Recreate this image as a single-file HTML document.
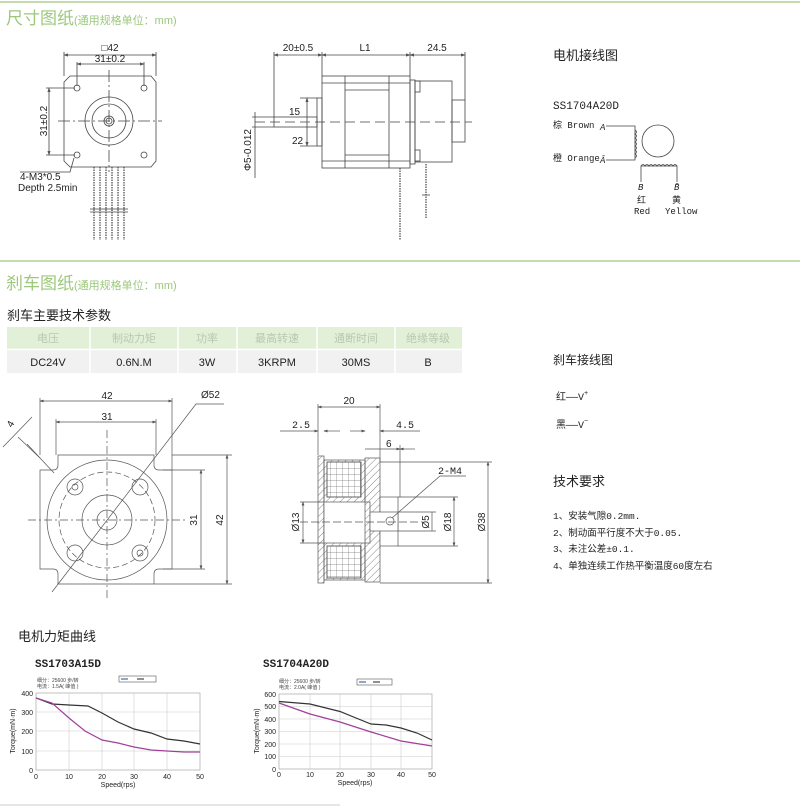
<!DOCTYPE html>
<html><head><meta charset="utf-8"><style>
html,body{margin:0;padding:0;background:#fff;}
svg{display:block;font-family:"Liberation Sans","Noto Sans CJK SC",sans-serif;}
.m{font-family:"Liberation Mono","Noto Sans CJK SC",monospace;}
</style></head><body>
<svg width="800" height="807" viewBox="0 0 800 807" xmlns="http://www.w3.org/2000/svg">
<defs>
<marker id="ar" markerWidth="6" markerHeight="4" refX="5" refY="2" orient="auto-start-reverse"><path d="M0,0 L6,2 L0,4z" fill="#555"/></marker>
<pattern id="hatch" width="5" height="5" patternUnits="userSpaceOnUse" patternTransform="rotate(45)"><line x1="0" y1="0" x2="0" y2="5" stroke="#666" stroke-width="0.8"/></pattern>
<pattern id="grid" width="6" height="6" patternUnits="userSpaceOnUse"><path d="M6,0 L0,0 0,6" fill="none" stroke="#777" stroke-width="0.7"/></pattern>
</defs>

<line x1="0" y1="2" x2="800" y2="2" stroke="#c4dcb0" stroke-width="2"/>
<text x="6" y="24" font-size="17" fill="#9cc87c">尺寸图纸<tspan font-size="11">(通用规格单位：mm)</tspan></text>

<g stroke="#444" fill="none" stroke-width="0.8">
<path d="M70,76 L151,76 L156,82 L156,161 L151,167 L70,167 L64,161 L64,82 Z"/>
<circle cx="109" cy="121" r="24"/><circle cx="109" cy="121" r="17"/>
<circle cx="109" cy="121" r="5"/><circle cx="109" cy="121" r="3"/>
<circle cx="77" cy="88" r="3"/><circle cx="144" cy="88" r="3"/><circle cx="77" cy="155" r="3"/><circle cx="144" cy="155" r="3"/>
<line x1="58" y1="121" x2="162" y2="121" stroke-dasharray="12,3,2,3"/>
<line x1="109" y1="70" x2="109" y2="172" stroke-dasharray="12,3,2,3"/>
<line x1="64" y1="52" x2="64" y2="76"/><line x1="156" y1="52" x2="156" y2="76"/>
<line x1="64" y1="55" x2="156" y2="55" marker-start="url(#ar)" marker-end="url(#ar)"/>
<line x1="77" y1="62" x2="77" y2="86"/><line x1="144" y1="62" x2="144" y2="86"/>
<line x1="77" y1="64" x2="144" y2="64" marker-start="url(#ar)" marker-end="url(#ar)"/>
<line x1="46" y1="88" x2="75" y2="88"/><line x1="46" y1="155" x2="75" y2="155"/>
<line x1="49" y1="88" x2="49" y2="155" marker-start="url(#ar)" marker-end="url(#ar)"/>
<polyline points="74,158 70,172 20,172"/>
<g stroke-dasharray="1.5,1" stroke-width="1.2">
<line x1="94" y1="167" x2="94" y2="240"/><line x1="100" y1="167" x2="100" y2="240"/><line x1="106" y1="167" x2="106" y2="240"/>
<line x1="112" y1="167" x2="112" y2="240"/><line x1="118" y1="167" x2="118" y2="240"/><line x1="124" y1="167" x2="124" y2="240"/>
</g>
<line x1="90" y1="209" x2="128" y2="209"/><line x1="90" y1="212" x2="128" y2="212"/>

<rect x="322" y="76" width="88" height="92"/>
<line x1="345" y1="76" x2="345" y2="168"/><line x1="389" y1="76" x2="389" y2="168"/>
<line x1="322" y1="83" x2="410" y2="83"/><line x1="345" y1="90" x2="389" y2="90"/>
<line x1="322" y1="161" x2="410" y2="161"/><line x1="345" y1="155" x2="389" y2="155"/>
<rect x="410" y="80" width="5" height="84"/>
<rect x="415" y="81" width="37" height="81"/>
<rect x="415" y="81" width="5" height="11"/><rect x="415" y="150" width="5" height="11"/>
<rect x="452" y="100" width="13" height="42"/>
<rect x="317" y="98" width="5" height="48"/>
<rect x="274" y="117" width="43" height="10"/>
<line x1="255" y1="122" x2="472" y2="122" stroke-dasharray="10,5"/>
<line x1="274" y1="52" x2="274" y2="117"/><line x1="322" y1="52" x2="322" y2="76"/>
<line x1="410" y1="52" x2="410" y2="76"/><line x1="465" y1="52" x2="465" y2="100"/>
<line x1="274" y1="55" x2="322" y2="55" marker-start="url(#ar)" marker-end="url(#ar)"/>
<line x1="322" y1="55" x2="410" y2="55" marker-start="url(#ar)" marker-end="url(#ar)"/>
<line x1="410" y1="55" x2="465" y2="55" marker-start="url(#ar)" marker-end="url(#ar)"/>
<line x1="300" y1="98" x2="317" y2="98"/><line x1="300" y1="146" x2="317" y2="146"/>
<line x1="307" y1="98" x2="307" y2="146" marker-start="url(#ar)" marker-end="url(#ar)"/>
<line x1="252" y1="117" x2="274" y2="117"/><line x1="252" y1="127" x2="274" y2="127"/>
<line x1="255" y1="112" x2="255" y2="178"/>
<g stroke-dasharray="1.5,1" stroke-width="1.2">
<line x1="400" y1="168" x2="400" y2="240"/><line x1="426" y1="164" x2="426" y2="218"/>
</g>
<line x1="422" y1="195" x2="430" y2="195"/>

<polyline points="606,126 635,126 635,160 606,160"/>
<path d="M635,130 q3,2 0,4 q3,2 0,4 q3,2 0,4 q3,2 0,4 q3,2 0,4 q3,2 0,4 q3,2 0,4" />
<circle cx="658" cy="141" r="16"/>
<polyline points="641,182 641,166 677,166 677,182"/>
<path d="M641,166 q2,-3 4,0 q2,-3 4,0 q2,-3 4,0 q2,-3 4,0 q2,-3 4,0 q2,-3 4,0 q2,-3 4,0 q2,-3 4,0 q2,-3 4,0"/>
</g>

<g font-size="10" fill="#222">
<text x="110" y="51" text-anchor="middle">□42</text>
<text x="110" y="62" text-anchor="middle">31±0.2</text>
<text x="47" y="121" text-anchor="middle" transform="rotate(-90 47 121)">31±0.2</text>
<text x="20" y="180">4-M3*0.5</text>
<text x="18" y="191">Depth 2.5min</text>
<text x="298" y="51" text-anchor="middle">20±0.5</text>
<text x="365" y="51" text-anchor="middle">L1</text>
<text x="437" y="51" text-anchor="middle">24.5</text>
<text x="289" y="115">15</text>
<text x="292" y="144">22</text>
<text x="251" y="150" text-anchor="middle" transform="rotate(-90 251 150)">Φ5-0.012</text>
</g>
<text x="553" y="60" font-size="13" fill="#222">电机接线图</text>
<g class="m" font-size="9" fill="#222">
<text x="553" y="109" font-size="11">SS1704A20D</text>
<text x="553" y="128">棕 Brown</text>
<text x="600" y="130" font-style="italic">A</text>
<text x="553" y="161">橙 Orange</text>
<text x="600" y="163" font-style="italic">Ā</text>
<text x="638" y="190" font-style="italic">B</text>
<text x="674" y="190" font-style="italic">B̄</text>
<text x="637" y="203">红</text><text x="672" y="203">黄</text>
<text x="634" y="214">Red</text><text x="665" y="214">Yellow</text>
</g>

<line x1="0" y1="261" x2="800" y2="261" stroke="#c4dcb0" stroke-width="2"/>
<text x="6" y="289" font-size="17" fill="#9cc87c">刹车图纸<tspan font-size="11">(通用规格单位：mm)</tspan></text>
<text x="7" y="320" font-size="13" fill="#222">刹车主要技术参数</text>
<rect x="7" y="327" width="455" height="22" fill="#e3f0d8"/>
<rect x="7" y="350" width="455" height="23" fill="#f1f1f1"/>
<g stroke="#fff" stroke-width="1.5">
<line x1="90" y1="327" x2="90" y2="373"/><line x1="178" y1="327" x2="178" y2="373"/><line x1="237" y1="327" x2="237" y2="373"/>
<line x1="317" y1="327" x2="317" y2="373"/><line x1="395" y1="327" x2="395" y2="373"/><line x1="7" y1="349.5" x2="462" y2="349.5"/>
</g>
<g font-size="11" fill="#b8c8b0" text-anchor="middle">
<text x="48" y="342">电压</text><text x="134" y="342">制动力矩</text><text x="207" y="342">功率</text>
<text x="277" y="342">最高转速</text><text x="356" y="342">通断时间</text><text x="428" y="342">绝缘等级</text>
</g>
<g font-size="11" fill="#222" text-anchor="middle">
<text x="48" y="366">DC24V</text><text x="134" y="366">0.6N.M</text><text x="207" y="366">3W</text>
<text x="277" y="366">3KRPM</text><text x="356" y="366">30MS</text><text x="428" y="366">B</text>
</g>

<g stroke="#555" fill="none" stroke-width="0.7">
<path d="M58,455 L154,455 L154,465 Q154,470 159,470 L172,470 L172,569 L159,569 Q154,569 154,574 L154,584 L58,584 L58,574 Q58,569 53,569 L40,569 L40,470 L53,470 Q58,470 58,465 Z"/>
<circle cx="107" cy="520" r="60"/>
<circle cx="107" cy="520" r="48" stroke-dasharray="6,3"/>
<circle cx="107" cy="520" r="25"/><circle cx="107" cy="520" r="10"/>
<circle cx="75" cy="487" r="8"/><circle cx="75" cy="487" r="3"/>
<circle cx="140" cy="487" r="8"/>
<circle cx="75" cy="553" r="8"/>
<circle cx="140" cy="553" r="8"/><circle cx="140" cy="553" r="3"/>
<line x1="28" y1="520" x2="188" y2="520" stroke-dasharray="8,3,2,3"/>
<line x1="107" y1="430" x2="107" y2="600" stroke-dasharray="8,3,2,3"/>
<line x1="40" y1="398" x2="40" y2="455"/><line x1="172" y1="398" x2="172" y2="470"/>
<line x1="40" y1="401" x2="172" y2="401" marker-start="url(#ar)" marker-end="url(#ar)"/>
<line x1="56" y1="419" x2="56" y2="455"/><line x1="156" y1="419" x2="156" y2="455"/>
<line x1="56" y1="422" x2="156" y2="422" marker-start="url(#ar)" marker-end="url(#ar)"/>
<line x1="163" y1="470" x2="205" y2="470"/><line x1="163" y1="569" x2="205" y2="569"/>
<line x1="201" y1="470" x2="201" y2="569" marker-start="url(#ar)" marker-end="url(#ar)"/>
<line x1="172" y1="455" x2="232" y2="455"/><line x1="154" y1="584" x2="232" y2="584"/>
<line x1="227" y1="455" x2="227" y2="584" marker-start="url(#ar)" marker-end="url(#ar)"/>
<polyline points="52,592 196,404 224,404"/>
<line x1="3" y1="447" x2="32" y2="417"/><line x1="40" y1="458" x2="18" y2="437"/><line x1="54" y1="473" x2="27" y2="444"/>

<rect x="318" y="456" width="6" height="127" fill="url(#hatch)"/>
<rect x="324" y="460" width="41" height="120" fill="url(#hatch)"/>
<rect x="327" y="462" width="34" height="35" fill="#fff"/>
<rect x="327" y="462" width="34" height="35" fill="url(#grid)"/>
<rect x="327" y="546" width="34" height="32" fill="#fff"/>
<rect x="327" y="546" width="34" height="32" fill="url(#grid)"/>
<rect x="324" y="502" width="46" height="41" fill="#fff"/>
<rect x="365" y="458" width="15" height="124" fill="url(#hatch)"/>
<rect x="380" y="497" width="18" height="49" fill="#fff"/>
<rect x="370" y="512" width="28" height="19" fill="#fff"/>
<circle cx="390" cy="521" r="4"/>
<line x1="300" y1="522" x2="420" y2="522" stroke-dasharray="8,3"/>
<line x1="318" y1="404" x2="318" y2="455"/><line x1="380" y1="404" x2="380" y2="462"/>
<line x1="318" y1="407" x2="380" y2="407" marker-start="url(#ar)" marker-end="url(#ar)"/>
<line x1="280" y1="431" x2="318" y2="431" marker-end="url(#ar)"/><line x1="324" y1="431" x2="340" y2="431" marker-start="url(#ar)"/>
<line x1="350" y1="431" x2="365" y2="431" marker-end="url(#ar)"/><line x1="380" y1="431" x2="420" y2="431" marker-start="url(#ar)"/>
<line x1="365" y1="449" x2="400" y2="449" marker-end="url(#ar)"/><line x1="400" y1="449" x2="415" y2="449" marker-start="url(#ar)"/>
<line x1="400" y1="445" x2="400" y2="497"/>
<line x1="300" y1="502" x2="324" y2="502"/><line x1="300" y1="543" x2="324" y2="543"/>
<line x1="303" y1="502" x2="303" y2="543" marker-start="url(#ar)" marker-end="url(#ar)"/>
<line x1="398" y1="512" x2="436" y2="512"/><line x1="398" y1="531" x2="436" y2="531"/>
<line x1="432" y1="512" x2="432" y2="531"/>
<line x1="398" y1="497" x2="458" y2="497"/><line x1="398" y1="546" x2="458" y2="546"/>
<line x1="454" y1="497" x2="454" y2="546" marker-start="url(#ar)" marker-end="url(#ar)"/>
<line x1="380" y1="462" x2="492" y2="462"/><line x1="380" y1="583" x2="492" y2="583"/>
<line x1="488" y1="462" x2="488" y2="583" marker-start="url(#ar)" marker-end="url(#ar)"/>
<polyline points="392,518 440,476 466,476"/>
</g>
<g font-size="10" fill="#222">
<text x="107" y="399" text-anchor="middle">42</text>
<text x="107" y="420" text-anchor="middle">31</text>
<text x="201" y="398">Ø52</text>
<text x="197" y="520" text-anchor="middle" transform="rotate(-90 197 520)">31</text>
<text x="223" y="520" text-anchor="middle" transform="rotate(-90 223 520)">42</text>
<text x="12" y="428" transform="rotate(-60 12 428)">4</text>
<text x="349" y="404" text-anchor="middle">20</text>
<text x="292" y="428" class="m">2.5</text>
<text x="396" y="428" class="m">4.5</text>
<text x="386" y="447">6</text>
<text x="438" y="474" class="m">2-M4</text>
<text x="299" y="522" text-anchor="middle" transform="rotate(-90 299 522)">Ø13</text>
<text x="429" y="522" text-anchor="middle" transform="rotate(-90 429 522)">Ø5</text>
<text x="451" y="522" text-anchor="middle" transform="rotate(-90 451 522)">Ø18</text>
<text x="485" y="522" text-anchor="middle" transform="rotate(-90 485 522)">Ø38</text>
</g>
<text x="553" y="364" font-size="12" fill="#222">刹车接线图</text>
<g class="m" font-size="10" fill="#222">
<text x="556" y="400">红——V<tspan font-size="7" dy="-5">+</tspan></text>
<text x="556" y="428">黑——V<tspan font-size="7" dy="-5">−</tspan></text>
</g>
<text x="553" y="486" font-size="13" fill="#222">技术要求</text>
<g class="m" font-size="9.5" fill="#222">
<text x="553" y="519">1、安装气隙0.2mm.</text>
<text x="553" y="536">2、制动面平行度不大于0.05.</text>
<text x="553" y="552">3、未注公差±0.1.</text>
<text x="553" y="569">4、单独连续工作热平衡温度60度左右</text>
</g>

<text x="18" y="641" font-size="13" fill="#222">电机力矩曲线</text>
<text x="35" y="667" class="m" font-size="11" font-weight="bold" fill="#222">SS1703A15D</text>
<text x="263" y="667" class="m" font-size="11" font-weight="bold" fill="#222">SS1704A20D</text>

<g font-size="5" fill="#444">
<text x="37" y="682">细分：25600 步/转</text><text x="37" y="688">电流：1.5A( 峰值 )</text>
<text x="279" y="683">细分：25600 步/转</text><text x="279" y="689">电流：2.0A( 峰值 )</text>
</g>
<rect x="119" y="676" width="37" height="6" fill="#fff" stroke="#555" stroke-width="0.6"/>
<line x1="121" y1="679" x2="128" y2="679" stroke="#2a4a9a"/><line x1="137" y1="679" x2="144" y2="679" stroke="#222"/>
<rect x="357" y="679" width="35" height="6" fill="#fff" stroke="#555" stroke-width="0.6"/>
<line x1="359" y1="682" x2="366" y2="682" stroke="#2a4a9a"/><line x1="373" y1="682" x2="380" y2="682" stroke="#222"/>

<g stroke="#ccc" stroke-width="0.6" fill="none">
<rect x="36" y="693" width="164" height="77" stroke="#999"/>
<line x1="36" y1="712" x2="200" y2="712"/><line x1="36" y1="731" x2="200" y2="731"/><line x1="36" y1="751" x2="200" y2="751"/>
<line x1="69" y1="693" x2="69" y2="770"/><line x1="102" y1="693" x2="102" y2="770"/><line x1="134" y1="693" x2="134" y2="770"/><line x1="167" y1="693" x2="167" y2="770"/>
<rect x="279" y="694" width="153" height="75" stroke="#999"/>
<line x1="279" y1="706.5" x2="432" y2="706.5"/><line x1="279" y1="719" x2="432" y2="719"/><line x1="279" y1="731.5" x2="432" y2="731.5"/>
<line x1="279" y1="744" x2="432" y2="744"/><line x1="279" y1="756.5" x2="432" y2="756.5"/>
<line x1="310" y1="694" x2="310" y2="769"/><line x1="340" y1="694" x2="340" y2="769"/><line x1="371" y1="694" x2="371" y2="769"/><line x1="401" y1="694" x2="401" y2="769"/>
</g>
<polyline fill="none" stroke="#333" stroke-width="1.2" points="36,698 52,704 69,705 88,706 102,713 118,722 134,729 151,733 167,739 184,741 200,744"/>
<polyline fill="none" stroke="#a0409a" stroke-width="1.2" points="36,698 52,703 69,718 85,731 102,740 118,743 134,747 151,750 167,751 184,752 200,752"/>
<polyline fill="none" stroke="#333" stroke-width="1.2" points="279,701.5 310,704 340,711.5 356,718 371,724 386,725 401,728 417,733 432,740"/>
<polyline fill="none" stroke="#a0409a" stroke-width="1.2" points="279,703 310,714 340,722 371,732 401,741 432,746"/>

<g font-size="7" fill="#222" text-anchor="end">
<text x="33" y="696">400</text><text x="33" y="715">300</text><text x="33" y="734">200</text><text x="33" y="754">100</text><text x="33" y="773">0</text>
<text x="276" y="697">600</text><text x="276" y="709">500</text><text x="276" y="722">400</text><text x="276" y="734">300</text><text x="276" y="747">200</text><text x="276" y="759">100</text><text x="276" y="772">0</text>
</g>
<g font-size="7" fill="#222" text-anchor="middle">
<text x="36" y="779">0</text><text x="69" y="779">10</text><text x="102" y="779">20</text><text x="134" y="779">30</text><text x="167" y="779">40</text><text x="200" y="779">50</text>
<text x="118" y="787">Speed(rps)</text>
<text x="279" y="777">0</text><text x="310" y="777">10</text><text x="340" y="777">20</text><text x="371" y="777">30</text><text x="401" y="777">40</text><text x="432" y="777">50</text>
<text x="355" y="785">Speed(rps)</text>
<text x="15" y="731" transform="rotate(-90 15 731)">Torque(mN·m)</text>
<text x="259" y="731" transform="rotate(-90 259 731)">Torque(mN·m)</text>
</g>
<line x1="0" y1="805" x2="340" y2="805" stroke="#ccc" stroke-width="1"/>
</svg>
</body></html>
